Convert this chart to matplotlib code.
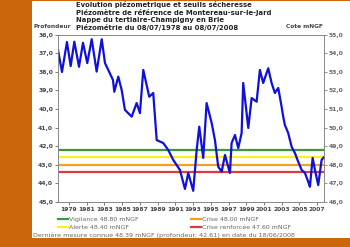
import matplotlib
matplotlib.use("Agg")
import matplotlib.pyplot as plt
from matplotlib.lines import Line2D

# ---- data (depth in m, "profondeur") ----
years = [1978.52, 1978.97, 1979.53, 1979.95, 1980.36, 1980.89, 1981.34, 1981.82,
         1982.32, 1982.88, 1983.45, 1983.82, 1984.19, 1984.72, 1984.87, 1985.32,
         1985.70, 1986.07, 1986.83, 1987.39, 1987.76, 1988.14, 1988.81, 1989.26,
         1989.65, 1990.39, 1990.95, 1991.52, 1992.27, 1992.84, 1993.21, 1993.77,
         1994.16, 1994.45, 1994.90, 1995.28, 1995.85, 1996.22, 1996.59, 1996.98,
         1997.35, 1997.91, 1998.10, 1998.48, 1998.85, 1999.23, 1999.41, 1999.98,
         2000.36, 2000.92, 2001.29, 2001.66, 2002.23, 2002.61, 2002.98, 2003.36,
         2003.74, 2003.92, 2004.11, 2004.48, 2004.87, 2005.24, 2005.61, 2006.00,
         2006.37, 2006.74, 2006.93, 2007.24, 2007.50, 2007.87, 2008.25, 2008.47]
depth = [36.83, 38.01, 36.40, 37.69, 36.38, 37.73, 36.44, 37.53,
         36.25, 37.99, 36.25, 37.53, 37.90, 38.44, 39.07, 38.26,
         38.98, 40.05, 40.41, 39.68, 40.22, 37.90, 39.34, 39.14,
         41.67, 41.83, 42.20, 42.74, 43.28, 44.30, 43.44, 44.40,
         42.20, 40.95, 42.63, 39.68, 40.75, 41.67, 43.10, 43.37,
         42.47, 43.44, 41.83, 41.40, 42.10, 41.29, 38.60, 41.02,
         39.41, 39.61, 37.90, 38.60, 37.81, 38.60, 39.14, 38.87,
         39.88, 40.41, 40.86, 41.29, 42.03, 42.37, 42.83, 43.28,
         43.44, 43.91, 44.18, 42.63, 43.28, 44.09, 42.74, 42.61]

thresholds_label = ["Vigilance 48.80 mNGF", "Alerte 48.40 mNGF",
                    "Crise 48.00 mNGF", "Crise renforcée 47.60 mNGF"]
thresholds_ngf = [48.80, 48.40, 48.00, 47.60]
thresholds_col = ["#3a9a3a", "#ffee22", "#f5a020", "#e03a3a"]
ref_level = 91.0  # cote = ref_level - profondeur

left_ticks = [36, 37, 38, 39, 40, 41, 42, 43, 44, 45]
right_ticks = [55, 54, 53, 52, 51, 50, 49, 48, 47, 46]
xtick_years = list(range(1979, 2008, 2))

title_lines = ["Evolution piézometrique et seuils sécheresse",
               "Piézomètre de référence de Montereau-sur-le-Jard",
               "Nappe du tertiaire-Champigny en Brie",
               "Piézométrie du 08/07/1978 au 08/07/2008"]
footer = "Dernière mesure connue 48.39 mNGF (profondeur: 42.61) en date du 18/06/2008"

W, H = 350, 247
fig = plt.figure(figsize=(W / 100, H / 100), dpi=100)
fig.patch.set_facecolor("#cc660a")
# white panel
fig.patches.append(plt.Rectangle((32 / W, 1 - 238 / H), 1 - 32 / W, (238 - 1) / H,
                                 transform=fig.transFigure, facecolor="white",
                                 edgecolor="none", zorder=-10))

ax = fig.add_axes([58 / W, 1 - 202 / H, (324 - 58) / W, (202 - 34.6) / H])
ax.set_zorder(2)
ax.set_facecolor("white")
ax.set_xlim(1978.52, 2008.52)
ax.set_ylim(45, 36)

for v, c in zip(thresholds_ngf, thresholds_col):
    ax.axhline(ref_level - v, color=c, lw=1.6, zorder=2)
ax.plot(years, depth, color="#1010dd", lw=1.6, zorder=3)

tc = "#444444"
ax.set_yticks(left_ticks)
ax.set_yticklabels([f"{t:.1f}".replace(".", ",") for t in left_ticks])
ax.set_xticks([y + 0.75 for y in xtick_years])
ax.set_xticklabels([str(y) for y in xtick_years])
ax.tick_params(axis="both", labelsize=4.3, colors=tc, length=2, width=0.5, pad=1.5)
for lab in ax.get_xticklabels() + ax.get_yticklabels():
    lab.set_fontweight("bold")

ax2 = ax.twinx()
ax2.set_zorder(3)
ax2.patch.set_visible(False)
ax2.set_ylim(ref_level - 45, ref_level - 36)
ax2.set_yticks(right_ticks)
ax2.set_yticklabels([f"{t:.1f}".replace(".", ",") for t in right_ticks])
ax2.tick_params(axis="y", labelsize=4.3, colors="#666666", length=2, width=0.5, pad=1.5)
for lab in ax2.get_yticklabels():
    lab.set_fontweight("bold")
for a in (ax, ax2):
    for s in a.spines.values():
        s.set_color("#888888")
        s.set_linewidth(0.6)

# titles
for i, t in enumerate(title_lines):
    fig.text(76 / W, 1 - (5 + 7.6 * i) / H, t, fontsize=4.95, fontweight="bold",
             color="#222222", va="center", ha="left")
fig.text(33 / W, 1 - 26 / H, "Profondeur", fontsize=4.2, fontweight="bold",
         color=tc, va="center", ha="left")
fig.text(323 / W, 1 - 26 / H, "Cote mNGF", fontsize=4.2, fontweight="bold",
         color=tc, va="center", ha="right")

# legend
pos = [(58, 219), (58, 227), (191, 219), (191, 227)]
for (px, py), lab, c in zip(pos, thresholds_label, thresholds_col):
    fig.add_artist(Line2D([px / W, (px + 10) / W], [1 - py / H, 1 - py / H],
                          transform=fig.transFigure, color=c, lw=1.6))
    fig.text((px + 11) / W, 1 - py / H, lab, fontsize=4.5, color="#666666",
             va="center", ha="left")
fig.text(33 / W, 1 - 235.5 / H, footer, fontsize=4.6, color="#666666",
         va="center", ha="left")

fig.savefig("out.png", dpi=100, facecolor=fig.get_facecolor())
